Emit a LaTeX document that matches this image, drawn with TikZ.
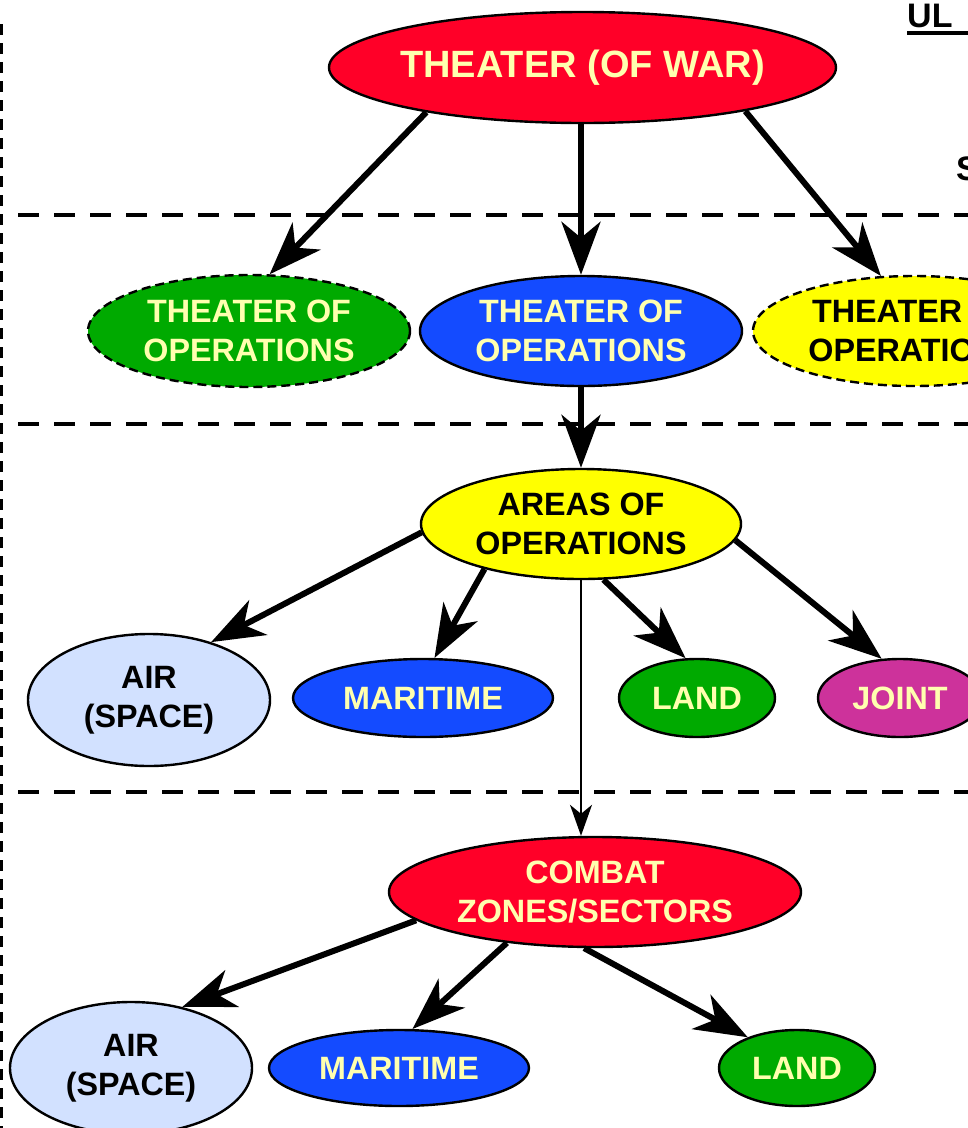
\documentclass[tikz,border=0pt]{standalone}
\usepackage{fontspec}
\setmainfont{Liberation Sans}
\usetikzlibrary{shapes.geometric,arrows.meta}
\definecolor{warred}{RGB}{255,0,40}
\definecolor{cream}{RGB}{255,255,175}
\definecolor{zonegreen}{RGB}{0,170,0}
\definecolor{zoneblue}{RGB}{20,75,255}
\definecolor{zoneyellow}{RGB}{255,255,0}
\definecolor{airblue}{RGB}{210,225,255}
\definecolor{jointpurple}{RGB}{205,50,155}

\begin{document}
\begin{tikzpicture}[x=1pt,y=1pt,yscale=-1,
	zone/.style={ellipse,draw=black,line width=2.4pt,inner sep=0pt,align=center,
		font=\fontsize{32.3}{39.5}\selectfont\bfseries},
	zonedash/.style={zone,dash pattern=on 9pt off 5pt},
	bigarrow/.style={line width=6pt,-{Stealth[length=53pt,width=39pt,inset=16pt]}},
	thinarrow/.style={line width=1.8pt,-{Stealth[length=31pt,width=22pt,inset=9pt]}},
	sepline/.style={line width=3.8pt,dash pattern=on 21pt off 15pt},
	headline/.style={font=\fontsize{34}{40}\selectfont\bfseries,inner sep=0pt,anchor=base west}]
	\useasboundingbox (0,0) rectangle (968,1128);
	\clip (0,0) rectangle (968,1128);
	
	%Dashed Lines
	\draw[line width=3pt,dash pattern=on 11pt off 8pt] (1.5,24) -- (1.5,1128);
	\draw[sepline] (18,215) -- (968,215);
	\draw[sepline] (18,424) -- (968,424);
	\draw[sepline] (18,792) -- (968,792);
	
	% Text Node
	\node[headline] (ulabel) at (907,27) {\rlap{\rule[-8pt]{80pt}{3.8pt}}UL};
	% Text Node
	\node[headline] (slabel) at (956,180) {S};
	
	%Shape: Ellipse
	\node[zone,fill=warred,text=cream,minimum width=507pt,minimum height=111pt,inner xsep=-40pt,
		font=\fontsize{38}{45}\selectfont\bfseries] (war) at (582.5,67.5) {THEATER (OF WAR)};
	%Shape: Ellipse
	\node[zonedash,fill=zonegreen,text=cream,minimum width=322pt,minimum height=112pt] (theaterA) at (249,331) {THEATER OF\\OPERATIONS};
	\node[zone,fill=zoneblue,text=cream,minimum width=322pt,minimum height=110pt] (theaterB) at (581,331) {THEATER OF\\OPERATIONS};
	\node[zonedash,fill=zoneyellow,text=black,minimum width=322pt,minimum height=110pt] (theaterC) at (914,331) {THEATER OF\\OPERATIONS};
	%Shape: Ellipse
	\node[zone,fill=zoneyellow,text=black,minimum width=320pt,minimum height=110pt] (areas) at (581,524) {AREAS OF\\OPERATIONS};
	%Shape: Ellipse
	\node[zone,fill=airblue,text=black,minimum width=242pt,minimum height=132pt] (airA) at (149,700) {AIR\\(SPACE)};
	\node[zone,fill=zoneblue,text=cream,minimum width=260pt,minimum height=78pt] (maritimeA) at (423,698) {MARITIME};
	\node[zone,fill=zonegreen,text=cream,minimum width=156pt,minimum height=78pt] (landA) at (697,698) {LAND};
	\node[zone,fill=jointpurple,text=cream,minimum width=164pt,minimum height=78pt] (jointA) at (900,698) {JOINT};
	%Shape: Ellipse
	\node[zone,fill=warred,text=cream,minimum width=412pt,minimum height=110pt] (combat) at (595,892) {COMBAT\\ZONES/SECTORS};
	%Shape: Ellipse
	\node[zone,fill=airblue,text=black,minimum width=242pt,minimum height=132pt] (airC) at (131,1068) {AIR\\(SPACE)};
	\node[zone,fill=zoneblue,text=cream,minimum width=260pt,minimum height=76pt] (maritimeC) at (399,1068) {MARITIME};
	\node[zone,fill=zonegreen,text=cream,minimum width=156pt,minimum height=76pt] (landC) at (797,1068) {LAND};
	
	%Arrows
	\draw[bigarrow] (war.196) -- (theaterA.70);
	\draw[bigarrow] (war.south -| theaterB.north) -- (theaterB.north);
	\draw[bigarrow] (war.345.6) -- (theaterC.121);
	\draw[bigarrow] (theaterB.south) -- (areas.north);
	%Arrows
	\draw[bigarrow] (areas.183.7) -- (airA.43);
	\draw[bigarrow] (areas.205.3) -- (maritimeA.74.4);
	\draw[bigarrow] (areas.292.7) -- (landA.106.5);
	\draw[bigarrow] (areas.354.9) -- (jointA.115);
	\draw[thinarrow] (areas.south) -- (combat.north -| areas.south);
	%Arrows
	\draw[bigarrow] (combat.189.7) -- (airC.50);
	\draw[bigarrow] (combat.210.5) -- (maritimeC.71);
	\draw[bigarrow] (combat.259.7) -- (landC.148);
\end{tikzpicture}
\end{document}
